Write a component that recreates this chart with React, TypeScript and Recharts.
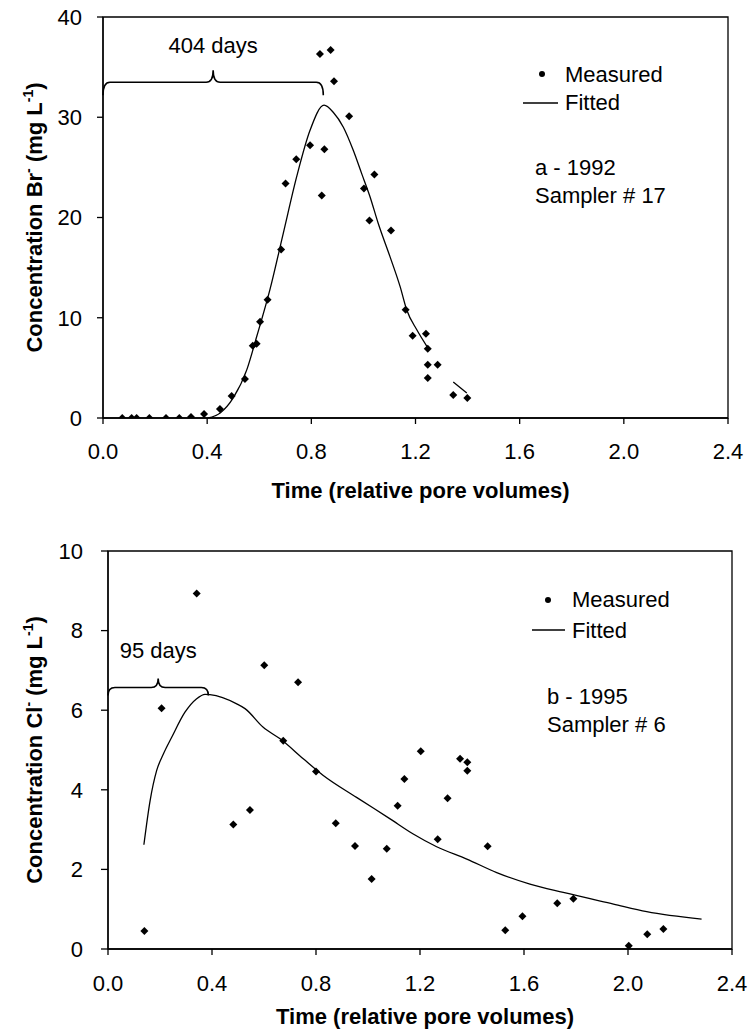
import React from 'react';
import { ComposedChart, Scatter, Line, XAxis, YAxis, ReferenceArea, ReferenceLine, Legend } from 'recharts';

const FONT = '"Liberation Sans", Arial, Helvetica, sans-serif';

// ---------- axis ticks ----------
const timeTicks = [0, 0.4, 0.8, 1.2, 1.6, 2.0, 2.4];
const brTicks = [0, 10, 20, 30, 40];
const clTicks = [0, 2, 4, 6, 8, 10];
const seriesNames = ['Measured', 'Fitted'];

// ---------- panel a : Br- 1992, sampler 17 ----------
const brMeasuredTime = [0.074, 0.11, 0.129, 0.178, 0.242, 0.293, 0.338, 0.388, 0.449, 0.494, 0.545, 0.575, 0.59, 0.603, 0.632, 0.684, 0.701, 0.742, 0.795, 0.84, 0.85, 0.833, 0.874, 0.887, 0.945, 1.002, 1.023, 1.042, 1.106, 1.162, 1.189, 1.24, 1.247, 1.247, 1.285, 1.247, 1.345, 1.399];
const brMeasuredConc = [0, 0, 0, 0, 0, 0, 0.1, 0.4, 0.9, 2.2, 3.9, 7.2, 7.4, 9.6, 11.8, 16.8, 23.4, 25.8, 27.2, 22.2, 26.8, 36.3, 36.7, 33.6, 30.1, 22.9, 19.7, 24.3, 18.7, 10.8, 8.2, 8.4, 6.9, 5.3, 5.3, 4.0, 2.3, 2.0];
const brFittedTime = [0.404, 0.45, 0.5, 0.552, 0.59, 0.641, 0.692, 0.744, 0.795, 0.849, 0.884, 0.923, 0.961, 0.993, 1.025, 1.057, 1.102, 1.141, 1.166, 1.205, 1.245, 1.3, 1.345, 1.397];
const brFittedConc = [0, 0.5, 2.0, 4.8, 8.1, 12.8, 18.4, 24.1, 28.7, 31.2, 30.5, 29.0, 26.7, 24.4, 22.1, 19.4, 16.1, 13.1, 10.8, 8.8, 7.1, null, 3.6, 2.5];
const brBraceTime = [0, 0.846];
const brBraceConc = 32.2;
const brBraceLabel = '404 days';
const brPanelLines = ['a - 1992', 'Sampler # 17'];

// ---------- panel b : Cl- 1995, sampler 6 ----------
const clMeasuredTime = [0.14, 0.206, 0.341, 0.482, 0.546, 0.601, 0.674, 0.731, 0.8, 0.876, 0.95, 1.014, 1.072, 1.114, 1.14, 1.203, 1.268, 1.306, 1.354, 1.382, 1.382, 1.46, 1.528, 1.594, 1.728, 1.79, 2.003, 2.074, 2.136];
const clMeasuredConc = [0.45, 6.05, 8.93, 3.13, 3.49, 7.13, 5.23, 6.7, 4.46, 3.16, 2.59, 1.76, 2.52, 3.6, 4.27, 4.97, 2.76, 3.79, 4.78, 4.69, 4.48, 2.58, 0.47, 0.82, 1.15, 1.26, 0.08, 0.37, 0.5];
const clFittedTime = [0.138, 0.162, 0.187, 0.213, 0.245, 0.296, 0.341, 0.373, 0.392, 0.495, 0.527, 0.597, 0.662, 0.751, 0.828, 0.956, 1.085, 1.174, 1.264, 1.38, 1.495, 1.623, 1.751, 1.944, 2.072, 2.283];
const clFittedConc = [2.62, 3.73, 4.48, 4.9, 5.32, 5.95, 6.29, 6.4, 6.39, 6.16, 6.04, 5.57, 5.28, 4.78, 4.36, 3.81, 3.27, 2.89, 2.57, 2.26, 1.92, 1.63, 1.42, 1.13, 0.94, 0.75];
const clBraceTime = [0, 0.386];
const clBraceConc = 6.37;
const clBraceLabel = '95 days';
const clPanelLines = ['b - 1995', 'Sampler # 6'];

const zip = (xs: number[], ys: (number | null)[]) => xs.map((t, i) => ({ time: t, conc: ys[i] }));

const Diamond = (props: any) => {
  const { cx, cy } = props;
  if (cx == null || cy == null || isNaN(cx) || isNaN(cy)) return null;
  const r = 4;
  return <path d={`M${cx},${cy - r}L${cx + r},${cy}L${cx},${cy + r}L${cx - r},${cy}Z`} fill="#000" />;
};

const braceShape = (label: string, rise: number, peak: number, textGap: number) => (props: any) => {
  const { x1, y1, x2 } = props;
  if (x1 == null || y1 == null || x2 == null) return <g />;
  const xm = (x1 + x2) / 2;
  const yh = y1 - rise;
  const r = 7;
  const d = `M${x1},${y1} Q${x1},${yh} ${x1 + r},${yh} L${xm - r},${yh} Q${xm},${yh} ${xm},${yh - peak} Q${xm},${yh} ${xm + r},${yh} L${x2 - r},${yh} Q${x2},${yh} ${x2},${y1}`;
  return (
    <g>
      <path d={d} fill="none" stroke="#000" strokeWidth={1.6} />
      <text x={xm} y={yh - peak - textGap} textAnchor="middle" fontFamily={FONT} fontSize={22} fill="#000">{label}</text>
    </g>
  );
};

const yLabel = (ion: string, baseX: number) => (props: any) => {
  const { viewBox } = props;
  const cy = viewBox.y + viewBox.height / 2;
  return (
    <text x={baseX} y={cy} transform={`rotate(-90 ${baseX} ${cy})`} textAnchor="middle" fontFamily={FONT} fontWeight="bold" fontSize={22} fill="#000">
      {'Concentration ' + ion}
      <tspan dy={-9} fontSize={14}>-</tspan>
      <tspan dy={9}>{' (mg L'}</tspan>
      <tspan dy={-9} fontSize={14}>-1</tspan>
      <tspan dy={9}>)</tspan>
    </text>
  );
};

const xLabel = (dyBase: number) => (props: any) => {
  const { viewBox } = props;
  const x = viewBox.x + viewBox.width / 2 + 5;
  return (
    <text x={x} y={viewBox.y + dyBase} textAnchor="middle" fontFamily={FONT} fontWeight="bold" fontSize={22} fill="#000">
      Time (relative pore volumes)
    </text>
  );
};

type LegendPos = { markX: number; markY: number; textX: number; measY: number; lineX1: number; lineX2: number; lineY: number; fitY: number; panelX: number; panelY: number };

const makeLegend = (pos: LegendPos, panelLines: string[]) => () => (
  <svg width={752} height={260} style={{ position: 'absolute', left: 0, top: 0, overflow: 'visible' }}>
    <circle cx={pos.markX} cy={pos.markY} r={3} fill="#000" />
    <text x={pos.textX} y={pos.measY} fontFamily={FONT} fontSize={22} fill="#000">{seriesNames[0]}</text>
    <line x1={pos.lineX1} x2={pos.lineX2} y1={pos.lineY} y2={pos.lineY} stroke="#000" strokeWidth={1.3} />
    <text x={pos.textX} y={pos.fitY} fontFamily={FONT} fontSize={22} fill="#000">{seriesNames[1]}</text>
    {panelLines.map((s, i) => (
      <text key={s} x={pos.panelX} y={pos.panelY + i * 28} fontFamily={FONT} fontSize={22} fill="#000">{s}</text>
    ))}
  </svg>
);

const axisTick = { fill: '#000', fontSize: 22, fontFamily: FONT };
const fmt1 = (v: number) => v.toFixed(1);

export default function App() {
  const brMeasured = zip(brMeasuredTime, brMeasuredConc);
  const brFitted = zip(brFittedTime, brFittedConc);
  const clMeasured = zip(clMeasuredTime, clMeasuredConc);
  const clFitted = zip(clFittedTime, clFittedConc);

  return (
    <div style={{ position: 'absolute', left: 0, top: 0, width: 752, height: 1036, background: '#fff' }}>
      <div style={{ position: 'absolute', left: 0, top: 0 }}>
        <ComposedChart width={752} height={520} margin={{ top: 17, right: 24, left: 43, bottom: 12 }}>
          <XAxis dataKey="time" type="number" domain={[0, 2.4]} ticks={timeTicks} tickFormatter={fmt1}
            allowDataOverflow tick={axisTick} tickSize={6} tickMargin={19} height={90}
            axisLine={{ stroke: '#000', strokeWidth: 1.3 }} tickLine={{ stroke: '#000', strokeWidth: 1.3 }}
            label={{ content: xLabel(80) }} />
          <YAxis type="number" domain={[0, 40]} ticks={brTicks} tick={axisTick} tickSize={6} tickMargin={15} width={60}
            allowDataOverflow axisLine={{ stroke: '#000', strokeWidth: 1.3 }} tickLine={{ stroke: '#000', strokeWidth: 1.3 }}
            label={{ content: yLabel('Br', 42) }} />
          <ReferenceArea x1={0} x2={2.4} y1={0} y2={40} fill="none" stroke="#000" strokeWidth={1.3} ifOverflow="visible" />
          <ReferenceLine segment={[{ x: brBraceTime[0], y: brBraceConc }, { x: brBraceTime[1], y: brBraceConc }]}
            ifOverflow="visible" shape={braceShape(brBraceLabel, 13, 12, 17)} />
          <Line data={brFitted} dataKey="conc" type="monotone" stroke="#000" strokeWidth={1.3} dot={false}
            isAnimationActive={false} name={seriesNames[1]} />
          <Scatter data={brMeasured} dataKey="conc" shape={<Diamond />} isAnimationActive={false} name={seriesNames[0]} />
          <Legend layout="vertical" align="center" verticalAlign="middle"
            wrapperStyle={{ left: 0, top: 0, width: 752, height: 0 }}
            content={makeLegend({ markX: 542, markY: 74, textX: 565, measY: 82, lineX1: 523, lineX2: 558, lineY: 103, fitY: 110, panelX: 535, panelY: 175 }, brPanelLines)} />
        </ComposedChart>
      </div>
      <div style={{ position: 'absolute', left: 0, top: 520 }}>
        <ComposedChart width={752} height={516} margin={{ top: 31, right: 20, left: 48, bottom: 7 }}>
          <XAxis dataKey="time" type="number" domain={[0, 2.4]} ticks={timeTicks} tickFormatter={fmt1}
            allowDataOverflow tick={axisTick} tickSize={6} tickMargin={20} height={80}
            axisLine={{ stroke: '#000', strokeWidth: 1.3 }} tickLine={{ stroke: '#000', strokeWidth: 1.3 }}
            label={{ content: xLabel(75) }} />
          <YAxis type="number" domain={[0, 10]} ticks={clTicks} tick={axisTick} tickSize={7} tickMargin={18} width={60}
            allowDataOverflow axisLine={{ stroke: '#000', strokeWidth: 1.3 }} tickLine={{ stroke: '#000', strokeWidth: 1.3 }}
            label={{ content: yLabel('Cl', 42) }} />
          <ReferenceArea x1={0} x2={2.4} y1={0} y2={10} fill="none" stroke="#000" strokeWidth={1.3} ifOverflow="visible" />
          <ReferenceLine segment={[{ x: clBraceTime[0], y: clBraceConc }, { x: clBraceTime[1], y: clBraceConc }]}
            ifOverflow="visible" shape={braceShape(clBraceLabel, 8, 9, 20)} />
          <Line data={clFitted} dataKey="conc" type="monotone" stroke="#000" strokeWidth={1.3} dot={false}
            isAnimationActive={false} name={seriesNames[1]} />
          <Scatter data={clMeasured} dataKey="conc" shape={<Diamond />} isAnimationActive={false} name={seriesNames[0]} />
          <Legend layout="vertical" align="center" verticalAlign="middle"
            wrapperStyle={{ left: 0, top: 0, width: 752, height: 0 }}
            content={makeLegend({ markX: 548, markY: 80, textX: 572, measY: 87, lineX1: 532, lineX2: 565, lineY: 110, fitY: 118, panelX: 547, panelY: 184 }, clPanelLines)} />
        </ComposedChart>
      </div>
    </div>
  );
}
